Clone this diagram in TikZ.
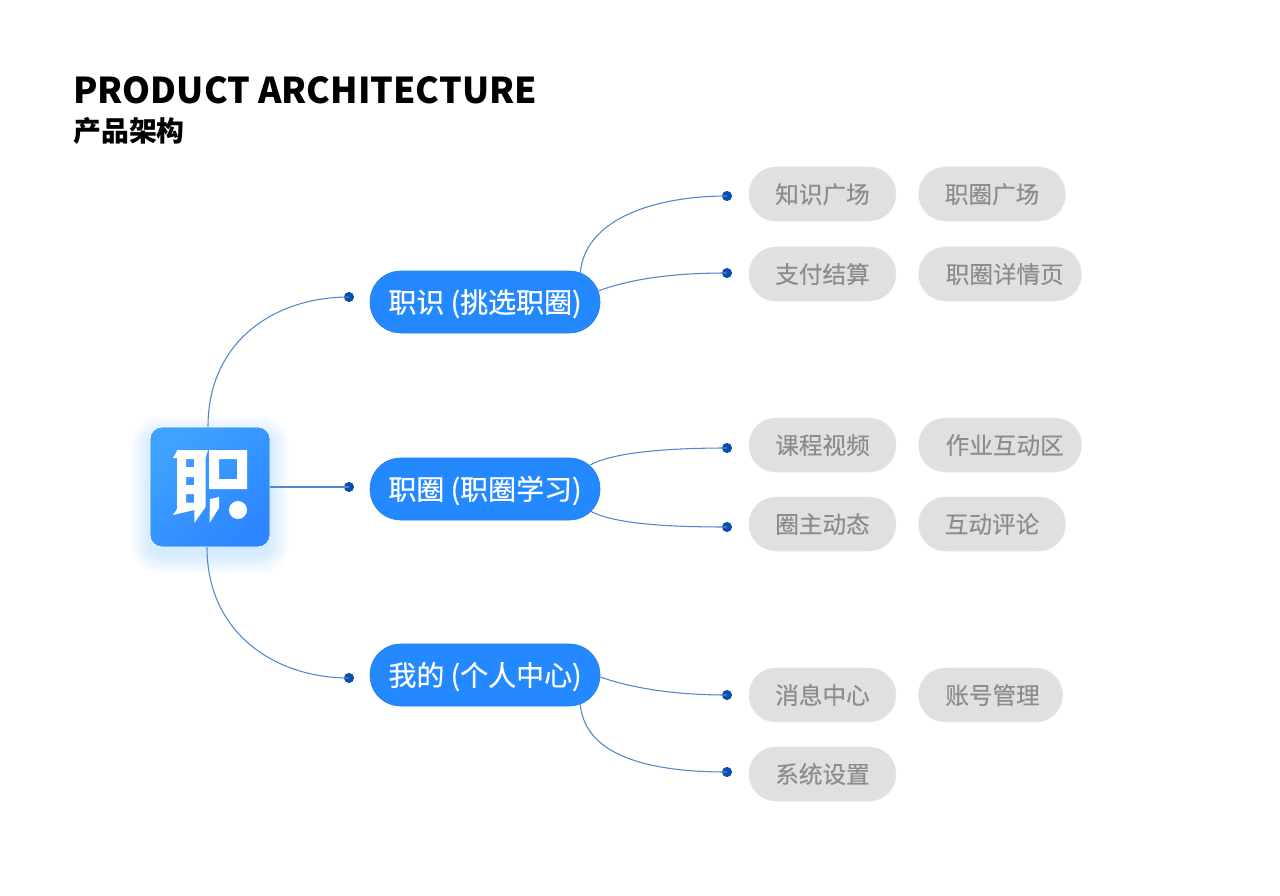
\documentclass[tikz,border=0pt]{standalone}
\usepackage{fontspec}
\setmainfont{Noto Sans CJK SC}
\newfontfamily\pillfont[FakeBold=0.5]{Noto Sans CJK SC}
\newfontfamily\greyfont[FakeBold=0.2]{Noto Sans CJK SC}
\usepackage{tikz}
\usetikzlibrary{positioning,calc}
\definecolor{pillblue}{RGB}{36,137,255}
\definecolor{pillline}{RGB}{30,125,235}
\definecolor{lightgrey}{RGB}{224,224,224}
\definecolor{greyline}{RGB}{232,232,232}
\definecolor{greytext}{RGB}{140,140,140}
\definecolor{linkblue}{RGB}{80,136,204}
\definecolor{dotblue}{RGB}{10,78,175}
\definecolor{logotop}{RGB}{64,162,255}
\definecolor{logobottom}{RGB}{44,134,255}

\begin{document}
\begin{tikzpicture}[x=0.75pt, y=-0.75pt,
            bluebox/.style={rectangle, draw=pillline, fill=pillblue, text=white, minimum width=172.5pt, minimum height=46.5pt, rounded corners=23pt, inner sep=0pt, text height=17pt, text depth=1pt, font=\pillfont\fontsize{21}{24}\selectfont},
            greybox/.style={rectangle, draw=greyline, fill=lightgrey, text=greytext, minimum width=110.25pt, minimum height=40.5pt, rounded corners=20pt, inner sep=0pt, text height=14pt, text depth=0.4pt, font=\greyfont\fontsize{17.7}{21}\selectfont},
            dot/.style={circle, fill=dotblue, minimum size=7.6pt, inner sep=0pt},
            link/.style={linkblue, line width=0.8pt}
        ]
        \useasboundingbox[fill=white] (0,0) rectangle (1280,895);

        \node[anchor=west, inner sep=0pt, font=\fontsize{26.7}{30}\bfseries\selectfont] (title) at (73,90) {PRODUCT ARCHITECTURE};
        \node[anchor=west, inner sep=0pt, font=\fontsize{20.9}{24}\bfseries\selectfont] (subtitle) at (73,131) {产品架构};

        % soft glow under the logo
        \foreach \g in {1,...,20}
            \fill[logobottom, opacity=0.006, rounded corners=9pt+0.7pt*\g] (150-\g,435-\g) rectangle (270+\g,555+\g);
        \node[rectangle, minimum size=90pt, inner sep=0pt, rounded corners=9pt, draw=white, line width=0.5pt, top color=logotop, bottom color=logobottom, shading angle=40] (logo) at (210,487) {};

        % logo mark
        \fill[white, even odd rule] (173,458) -- (177.5,450) -- (208,450) -- (205.5,458) -- (205.5,507) -- (194.3,523) -- (194.3,510) -- (173,515) -- (177,509) -- (177,458) -- cycle
            (186,459) rectangle (194,467) (186,477) rectangle (194,485) (186,494) rectangle (194,502.5);
        \fill[white, even odd rule] (209,450) rectangle (247,489) (219,459) rectangle (237,479);
        \fill[white] (210,499) -- (219,497) -- (219,508) -- (209.5,523) -- cycle;
        \fill[white] (238,510) circle (9);

        \node[bluebox] (zhishi) at (485,302) {职识 (挑选职圈)};
        \node[bluebox] (zhiquan) at (485,489) {职圈 (职圈学习)};
        \node[bluebox] (wode) at (485,675) {我的 (个人中心)};

        \node[greybox] (a1) at (822.5,194) {知识广场};
        \node[greybox, right=16.5pt of a1] (a2) {职圈广场};
        \node[greybox] (b1) at (822.5,274) {支付结算};
        \node[greybox, right=16.5pt of b1, minimum width=122.25pt] (b2) {\hspace*{7pt}职圈详情页};
        \node[greybox] (c1) at (822.5,445) {课程视频};
        \node[greybox, right=16.5pt of c1, minimum width=122.25pt] (c2) {\hspace*{7pt}作业互动区};
        \node[greybox] (d1) at (822.5,524) {圈主动态};
        \node[greybox, right=16.5pt of d1] (d2) {互动评论};
        \node[greybox] (e1) at (822.5,695) {消息中心};
        \node[greybox, right=16.5pt of e1, minimum width=108pt] (e2) {\hspace*{3pt}账号管理};
        \node[greybox] (f1) at (822.5,774) {系统设置};

        \node[dot] (p1) at (349,297) {};
        \node[dot] (p2) at (349,487) {};
        \node[dot] (p3) at (349,678) {};
        \node[dot] (qa) at (727,196) {};
        \node[dot] (qb) at (727,273) {};
        \node[dot] (qc) at (727,448) {};
        \node[dot] (qd) at (727,527) {};
        \node[dot] (qe) at (727,695) {};
        \node[dot] (qf) at (727,772) {};

        \draw[link] ($(logo.north)+(-2,0)$) .. controls +(0,-85) and +(-75,0) .. (p1.center);
        \draw[link] (logo) -- (p2.center);
        \draw[link] ($(logo.south)+(-3,0)$) .. controls +(0,85) and +(-75,0) .. (p3.center);

        \draw[link] ($(zhishi.north east)+(-20,2)$) .. controls +(5,-55) and +(-70,0) .. (qa.center);
        \draw[link] ($(zhishi.east)+(-2,-11)$) .. controls +(40,-15) and +(-40,0) .. (qb.center);
        \draw[link] ($(zhiquan.east)+(-10,-24)$) .. controls +(25,-14) and +(-50,0) .. (qc.center);
        \draw[link] ($(zhiquan.east)+(-10,22)$) .. controls +(25,14) and +(-50,0) .. (qd.center);
        \draw[link] ($(wode.east)+(0,2)$) .. controls +(40,14) and +(-40,0) .. (qe.center);
        \draw[link] ($(wode.south east)+(-20,-2)$) .. controls +(5,55) and +(-70,0) .. (qf.center);
        \end{tikzpicture}
\end{document}
